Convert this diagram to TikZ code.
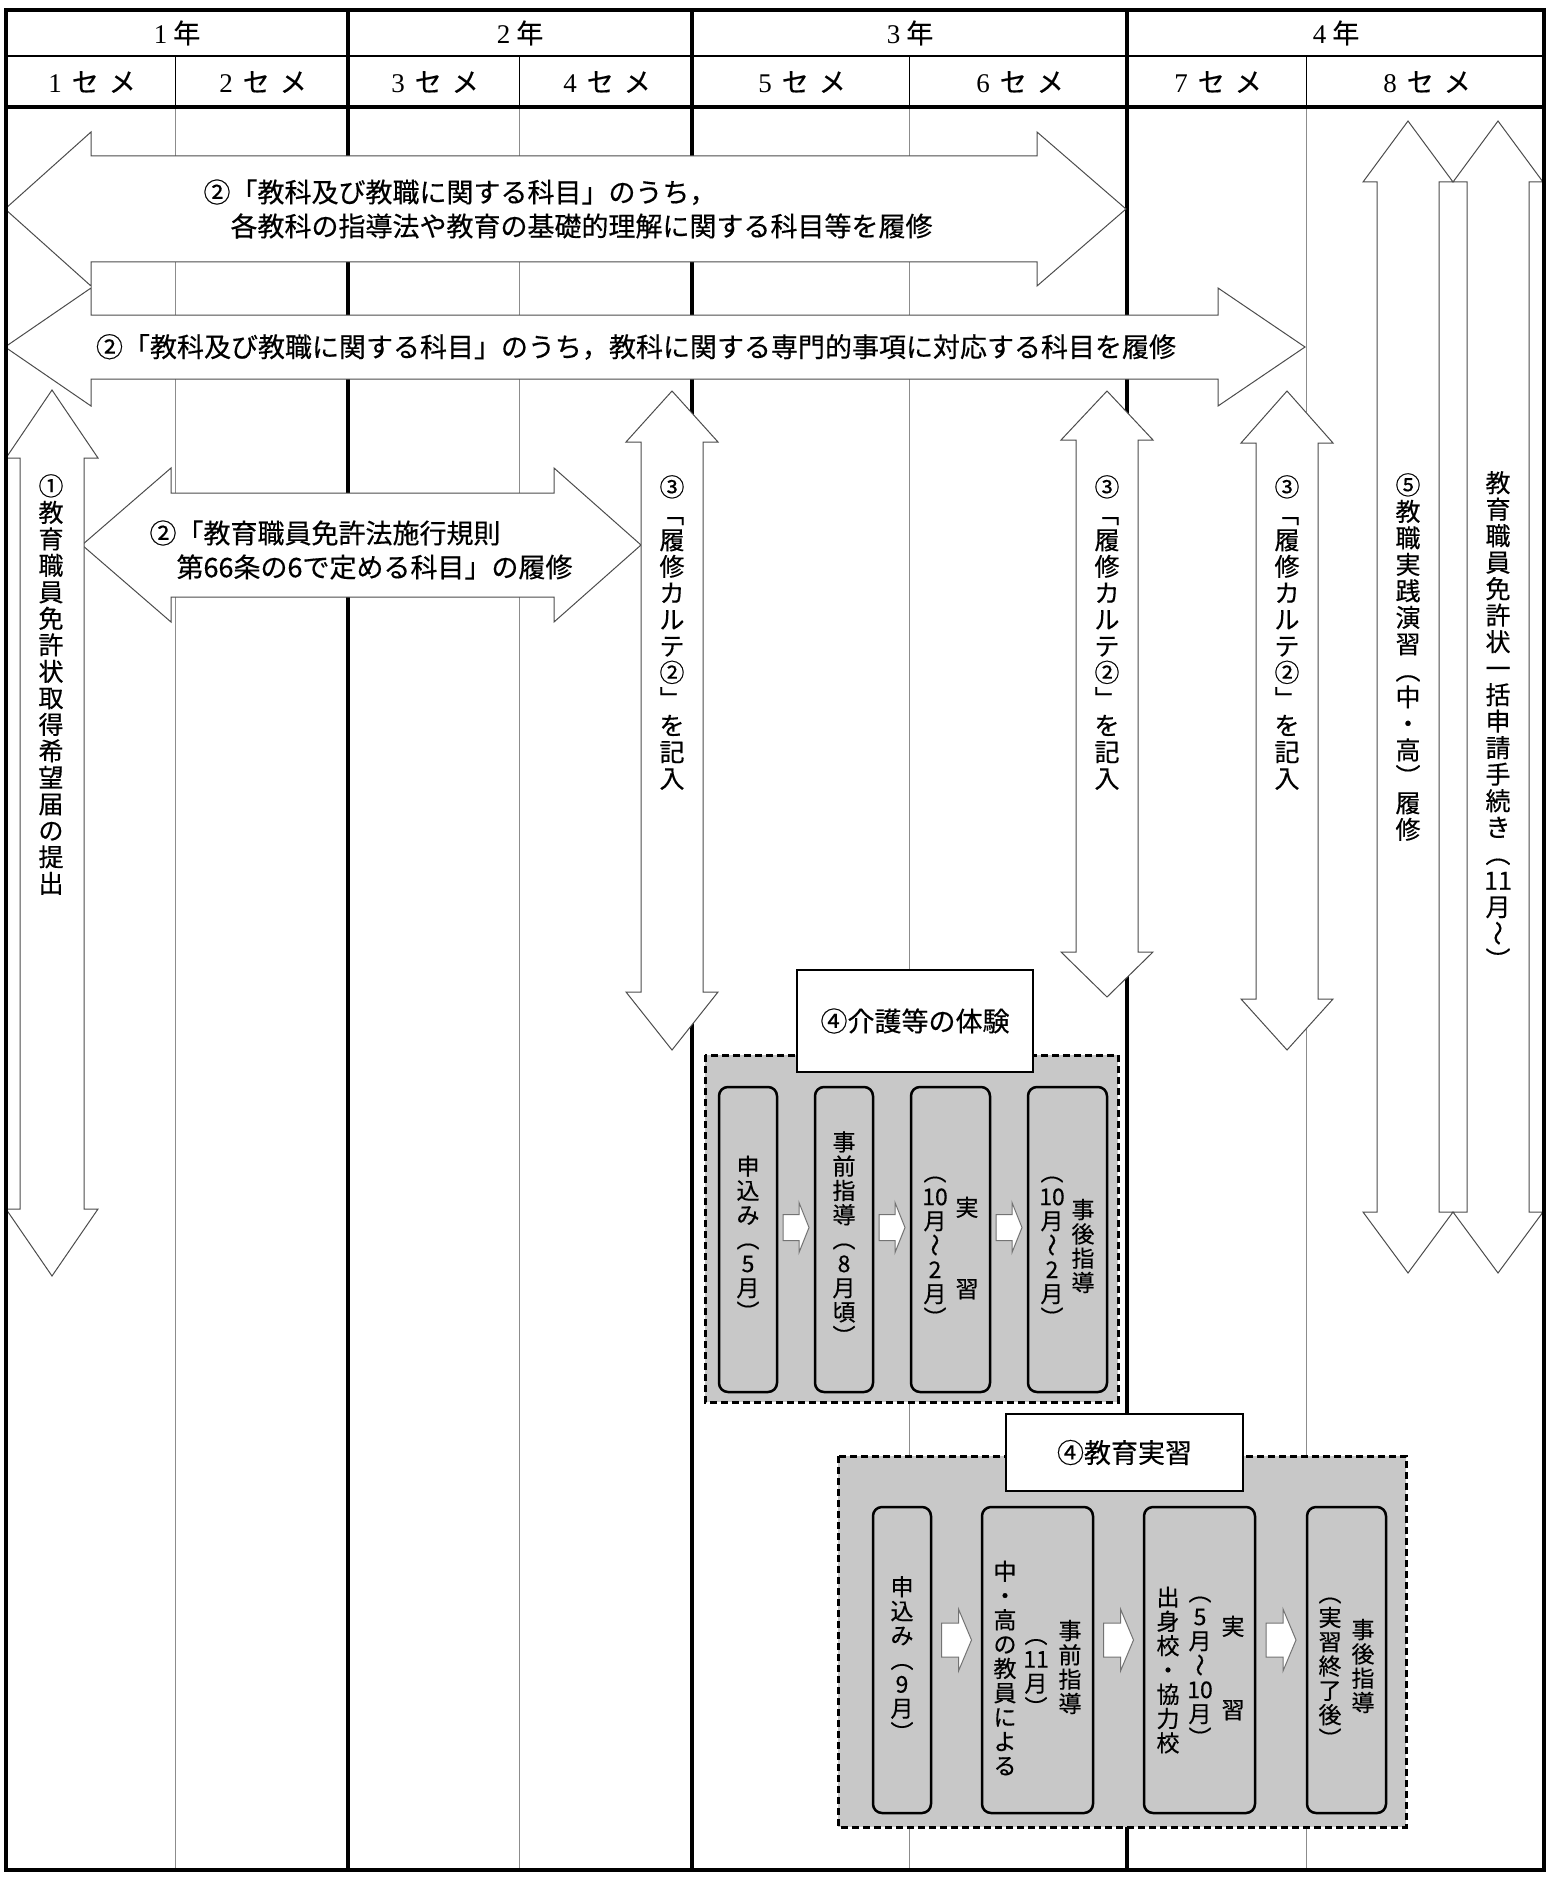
\documentclass[tikz,border=0pt]{standalone}
\usepackage{fontspec}
\usepackage{graphicx}
\usepackage{xcolor}
\usepackage{tikz}
\usetikzlibrary{calc}
\setmainfont{Noto Sans CJK JP}[FakeBold=0.4]
\newfontfamily\numfont{Liberation Serif}
\definecolor{boxgray}{HTML}{C8C8C8}
\definecolor{gridgray}{HTML}{8C8C8C}

\newcommand{\yokofont}{\fontsize{27}{34}\selectfont}
\newcommand{\tatefont}{\fontsize{25}{26.5}\selectfont}
\newcommand{\boxfont}{\fontsize{23}{24.3}\selectfont}
% vertical forms of brackets and the wave dash
\newcommand{\tateji}[1]{\rotatebox[origin=c]{-90}{\makebox[1em]{\rule[-.12em]{0pt}{1em}#1}}}
% one character per line
\ExplSyntaxOn
\NewDocumentCommand \tate { m }
  { \seq_set_split:Nnn \l_tmpa_seq { , } { #1 } \seq_use:Nn \l_tmpa_seq { \\ } }
\ExplSyntaxOff

% block arrows: left tip, left back, right back, right tip, y, shaft half, head half
\newcommand{\yokoarrow}[7]{\draw[blockarrow] (#1,#5) -- (#2,#5-#7) -- (#2,#5-#6) -- (#3,#5-#6) -- (#3,#5-#7) -- (#4,#5) -- (#3,#5+#7) -- (#3,#5+#6) -- (#2,#5+#6) -- (#2,#5+#7) -- cycle;}
% x, top tip, top back, bottom back, bottom tip, shaft half, head half
\newcommand{\tatearrow}[7]{\draw[blockarrow] (#1,#2) -- (#1+#7,#3) -- (#1+#6,#3) -- (#1+#6,#4) -- (#1+#7,#4) -- (#1,#5) -- (#1-#7,#4) -- (#1-#6,#4) -- (#1-#6,#3) -- (#1-#7,#3) -- cycle;}
% centre, half length, head length, shaft half, head half
\newcommand{\smallarrow}[5]{\draw[blockarrow, draw=black!55, shift={#1}] (-#2,-#4) -- (#2-#3,-#4) -- (#2-#3,-#5) -- (#2,0) -- (#2-#3,#5) -- (#2-#3,#4) -- (-#2,#4) -- cycle;}

\begin{document}
\begin{tikzpicture}[x=1pt, y=-1pt,
    blockarrow/.style={draw=black!70, fill=white, line width=1pt},
    gridline/.style={draw=gridgray, line width=1pt},
    yearline/.style={draw=black, line width=3.5pt},
    dashbox/.style={fill=boxgray, draw=black, line width=3pt, dash pattern=on 7pt off 4pt},
    flowbox/.style={draw=black, line width=2.5pt, fill=boxgray, rounded corners=9pt,
      minimum height=305pt, inner sep=0pt, align=center, font=\boxfont},
    titlebox/.style={draw=black, line width=2.5pt, fill=white, font=\yokofont, inner sep=0pt},
    tatetext/.style={anchor=north, align=center, inner sep=0pt, font=\tatefont},
    coltext/.style={align=center, inner sep=0pt, font=\boxfont},
    yokotext/.style={align=left, inner sep=0pt, font=\yokofont},
    headtext/.style={inner sep=0pt, font=\fontsize{27}{30}\selectfont}]
  \useasboundingbox (0,0) rectangle (1552,1878);

  % grid
  \draw[gridline] (175,107) -- (175,1870) (519,107) -- (519,1870)
    (909,107) -- (909,1870) (1306,107) -- (1306,1870);
  \draw[line width=1pt] (175,56) -- (175,107) (519,56) -- (519,107)
    (909,56) -- (909,107) (1306,56) -- (1306,107);
  \draw[yearline] (348,10) -- (348,1870) (692,10) -- (692,1870) (1127,10) -- (1127,1870);
  \draw[line width=1.2pt] (6,56) -- (1544,56);
  \draw[line width=3.5pt] (6,107) -- (1544,107);

  \node[headtext] (yr1) at (177,33) {{\numfont 1}\hspace{6pt}年};
  \node[headtext] (yr2) at (520,33) {{\numfont 2}\hspace{6pt}年};
  \node[headtext] (yr3) at (910,33) {{\numfont 3}\hspace{6pt}年};
  \node[headtext] (yr4) at (1336,33) {{\numfont 4}\hspace{6pt}年};
  \node[headtext] (se1) at (92,82) {{\numfont 1}\hspace{10pt}セ\hspace{10pt}メ};
  \node[headtext] (se2) at (263,82) {{\numfont 2}\hspace{10pt}セ\hspace{10pt}メ};
  \node[headtext] (se3) at (435,82) {{\numfont 3}\hspace{10pt}セ\hspace{10pt}メ};
  \node[headtext] (se4) at (607,82) {{\numfont 4}\hspace{10pt}セ\hspace{10pt}メ};
  \node[headtext] (se5) at (802,82) {{\numfont 5}\hspace{10pt}セ\hspace{10pt}メ};
  \node[headtext] (se6) at (1020,82) {{\numfont 6}\hspace{10pt}セ\hspace{10pt}メ};
  \node[headtext] (se7) at (1218,82) {{\numfont 7}\hspace{10pt}セ\hspace{10pt}メ};
  \node[headtext] (se8) at (1427,82) {{\numfont 8}\hspace{10pt}セ\hspace{10pt}メ};

  % block arrows
  \yokoarrow{5}{91}{1037}{1126}{209}{53}{77}
  \yokoarrow{5}{91}{1218}{1305}{347}{32}{59}
  \yokoarrow{82}{171}{554}{641}{545}{52}{77}
  \tatearrow{52}{390}{458}{1209}{1276}{32}{46}
  \tatearrow{672}{391}{442}{992}{1050}{31}{46}
  \tatearrow{1107}{391}{440}{952}{997}{31}{46}
  \tatearrow{1287}{391}{443}{999}{1050}{31}{46}
  \tatearrow{1408}{121}{182}{1212}{1273}{31}{45}
  \tatearrow{1498}{121}{182}{1212}{1273}{31}{45}

  \draw[line width=4pt] (6,10) rectangle (1544,1870);

  \node[yokotext] (kamoku) at (568,209)
    {②「教科及び教職に関する科目」のうち，\\　各教科の指導法や教育の基礎的理解に関する科目等を履修};
  \node[yokotext] (senmon) at (636,347)
    {②「教科及び教職に関する科目」のうち，教科に関する専門的事項に対応する科目を履修};
  \node[yokotext] (kisoku) at (361,550)
    {②「教育職員免許法施行規則\\　第66条の6で定める科目」の履修};
  \node[tatetext] (kibou) at (51,474) {\tate{①,教,育,職,員,免,許,状,取,得,希,望,届,の,提,出}};
  \node[tatetext] (karte1) at (672,475) {\tate{③,\tateji{「},履,修,カ,ル,テ,②,\tateji{」},を,記,入}};
  \node[tatetext] (karte2) at (1107,475) {\tate{③,\tateji{「},履,修,カ,ル,テ,②,\tateji{」},を,記,入}};
  \node[tatetext] (karte3) at (1287,475) {\tate{③,\tateji{「},履,修,カ,ル,テ,②,\tateji{」},を,記,入}};
  \node[tatetext] (ensyu) at (1408,473) {\tate{⑤,教,職,実,践,演,習,\tateji{（},中,・,高,\tateji{）},履,修}};
  \node[tatetext] (ikkatsu) at (1498,471) {\tate{教,育,職,員,免,許,状,一,括,申,請,手,続,き,\tateji{（},11,月,\tateji{～},\tateji{）}}};

  % kaigo
  \draw[dashbox] (705,1055) rectangle (1118,1402);
  \node[titlebox, minimum width=236pt, minimum height=102pt] (kaigo) at (915,1021) {④介護等の体験};
  \node[flowbox, minimum width=58pt] (k1) at (748,1239.5) {\tate{申,込,み,\tateji{（},5,月,\tateji{）}}};
  \node[flowbox, minimum width=58pt] (k2) at (844,1239.5) {\tate{事,前,指,導,\tateji{（},8,月,頃,\tateji{）}}};
  \node[flowbox, minimum width=79pt] (k3) at (950.5,1239.5) {};
  \node[flowbox, minimum width=79pt] (k4) at (1067.5,1239.5) {};
  \node[coltext] (k3a) at (967,1248) {実\\[57pt]習};
  \node[coltext] (k3b) at (935,1245) {\tate{\tateji{（},10,月,\tateji{～},2,月,\tateji{）}}};
  \node[coltext] (k4a) at (1083,1246) {\tate{事,後,指,導}};
  \node[coltext] (k4b) at (1052,1245) {\tate{\tateji{（},10,月,\tateji{～},2,月,\tateji{）}}};
  \smallarrow{($(k1.east)!.5!(k2.west)+(0,-12)$)}{13}{10}{13}{25}
  \smallarrow{($(k2.east)!.5!(k3.west)+(0,-12)$)}{13}{10}{13}{25}
  \smallarrow{($(k3.east)!.5!(k4.west)+(0,-12)$)}{13}{10}{13}{25}

  % kyoiku jissyu
  \draw[dashbox] (838,1456) rectangle (1406,1827);
  \node[titlebox, minimum width=237pt, minimum height=77pt] (jissyu) at (1124.5,1452.5) {④教育実習};
  \node[flowbox, minimum width=58pt, minimum height=306pt] (e1) at (902,1660) {\tate{申,込,み,\tateji{（},9,月,\tateji{）}}};
  \node[flowbox, minimum width=111pt, minimum height=306pt] (e2) at (1037.5,1660) {};
  \node[flowbox, minimum width=111pt, minimum height=306pt] (e3) at (1199.5,1660) {};
  \node[flowbox, minimum width=79pt, minimum height=306pt] (e4) at (1346.5,1660) {};
  \node[coltext] (e2a) at (1070,1667) {\tate{事,前,指,導}};
  \node[coltext] (e2b) at (1036,1671) {\tate{\tateji{（},11,月,\tateji{）}}};
  \node[coltext] (e2c) at (1005,1668) {\tate{中,・,高,の,教,員,に,よ,る}};
  \node[coltext] (e3a) at (1233,1668) {実\\[59pt]習};
  \node[coltext] (e3b) at (1200,1665) {\tate{\tateji{（},5,月,\tateji{～},10,月,\tateji{）}}};
  \node[coltext] (e3c) at (1168,1670) {\tate{出,身,校,・,協,力,校}};
  \node[coltext] (e4a) at (1363,1666) {\tate{事,後,指,導}};
  \node[coltext] (e4b) at (1330,1666) {\tate{\tateji{（},実,習,終,了,後,\tateji{）}}};
  \smallarrow{($(e1.east)!.5!(e2.west)+(0,-20)$)}{15}{13}{17}{31}
  \smallarrow{($(e2.east)!.5!(e3.west)+(0,-20)$)}{15}{13}{17}{31}
  \smallarrow{($(e3.east)!.5!(e4.west)+(0,-20)$)}{15}{13}{17}{31}
\end{tikzpicture}
\end{document}
